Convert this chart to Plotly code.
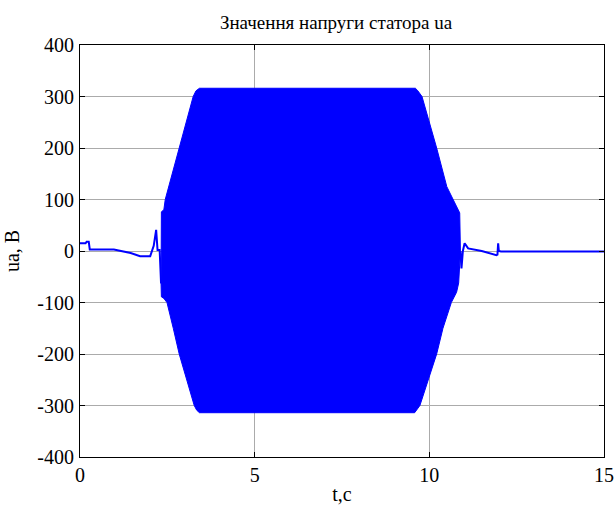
import plotly.graph_objects as go

# Small-signal segment before the high-amplitude region
pre_t = [0.00, 0.16, 0.19, 0.25, 0.28, 0.50, 0.97, 1.45, 1.72, 2.01, 2.11, 2.18, 2.22, 2.28, 2.32]
pre_v = [15, 15, 18, 18, 3, 3, 3, -4, -10, -10, 10, 41, 2, 2, -63]

# Envelope of the dense oscillation (upper edge, left to right)
upper_t = [2.32, 2.33, 2.40, 2.44, 2.56, 2.84, 3.24, 3.32, 3.42, 9.60, 9.66, 9.79, 10.21, 10.50, 10.68, 10.80, 10.87, 10.89]
upper_v = [-63, 76, 80, 100, 130, 200, 300, 311, 316, 316, 312, 300, 200, 125, 100, 85, 74, 0]
# Envelope lower edge, left to right
lower_t = [2.32, 2.33, 2.40, 2.49, 2.67, 2.84, 3.27, 3.34, 3.42, 9.58, 9.64, 9.73, 10.21, 10.39, 10.63, 10.78, 10.84, 10.89]
lower_v = [-63, -89, -92, -100, -150, -200, -300, -309, -314, -314, -310, -300, -200, -150, -100, -80, -62, 0]

# Small-signal segment after the high-amplitude region
post_t = [10.89, 10.92, 10.96, 11.01, 11.11, 11.30, 11.50, 11.92, 11.95, 11.97, 11.99, 12.05, 15.00]
post_v = [0, -34, 0, 15, 5, 3, 0, -8, -7, 15, 0, -1, -1]

x_ticks = [0, 5, 10, 15]
y_ticks = [-400, -300, -200, -100, 0, 100, 200, 300, 400]
y_tick_labels = ["-400", "-300", "-200", "-100", "0", "100", "200", "300", "400"]

BLUE = "#0000FF"
FONT = "Liberation Serif, Times New Roman, serif"

poly_t = upper_t + lower_t[::-1]
poly_v = upper_v + lower_v[::-1]

fig = go.Figure()
fig.add_trace(go.Scatter(x=poly_t, y=poly_v, mode="lines", fill="toself",
                         fillcolor=BLUE, line=dict(color=BLUE, width=1),
                         hoverinfo="skip", showlegend=False))
fig.add_trace(go.Scatter(x=pre_t, y=pre_v, mode="lines",
                         line=dict(color=BLUE, width=2), showlegend=False))
fig.add_trace(go.Scatter(x=post_t, y=post_v, mode="lines",
                         line=dict(color=BLUE, width=2), showlegend=False))

axis_common = dict(showline=True, linecolor="black", linewidth=1, mirror="allticks",
                   ticks="inside", ticklen=5, tickcolor="black", automargin=False,
                   showgrid=True, gridcolor="#ABABAB", gridwidth=1, zeroline=False,
                   tickfont=dict(family=FONT, size=20, color="black"))

fig.update_layout(
    width=616, height=509,
    margin=dict(l=80, r=12, t=45, b=52),
    paper_bgcolor="white", plot_bgcolor="white",
    title=dict(text="Значення напруги статора ua", x=336 / 616, xanchor="center",
               y=1 - 22 / 509, yanchor="middle", yref="container", xref="container",
               font=dict(family=FONT, size=19, color="black")),
    xaxis=dict(range=[0, 15], tickvals=x_ticks, ticklabelstandoff=0,
               title=dict(text="t,c", standoff=1, font=dict(family=FONT, size=20, color="black")),
               **axis_common),
    yaxis=dict(range=[-400, 400], tickvals=y_ticks, ticktext=y_tick_labels,
               ticklabelstandoff=1,
               title=dict(text="ua, В", standoff=12, font=dict(family=FONT, size=20, color="black")),
               **axis_common),
)

fig.write_html("out.html", config={"displayModeBar": False},
               post_script="document.body.style.margin='0';")
